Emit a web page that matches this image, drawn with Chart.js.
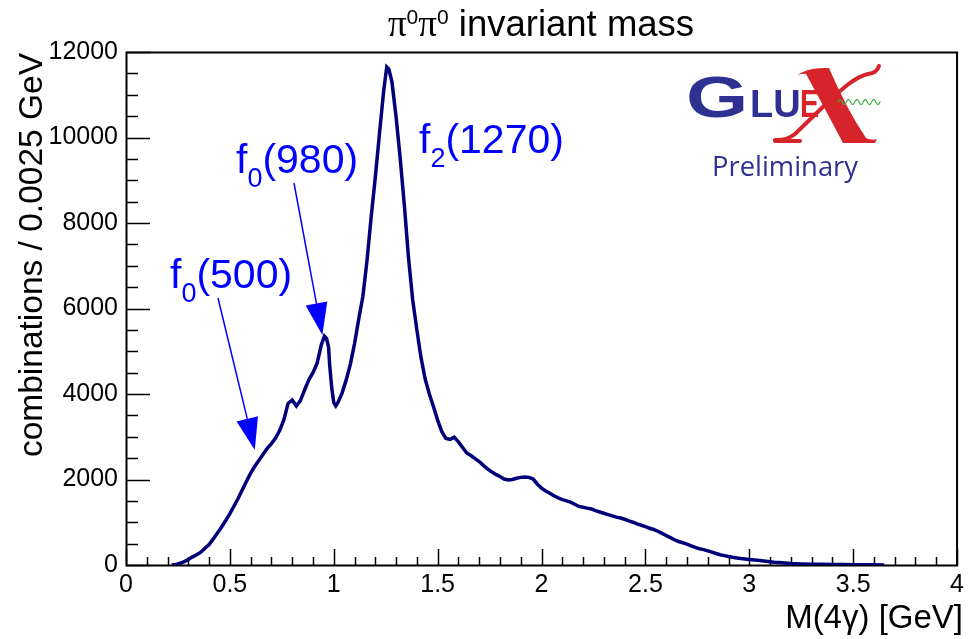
<!DOCTYPE html>
<html><head><meta charset="utf-8">
<script src="https://cdn.jsdelivr.net/npm/chart.js@4.4.0/dist/chart.umd.min.js"></script>
<style>html,body{margin:0;padding:0;background:#fff;}</style>
</head><body>
<canvas id="c" width="969" height="639"></canvas>
<script>
// M(4gamma) [GeV] sample positions
const masses = [0.22,0.24,0.26,0.28,0.30,0.32,0.34,0.36,0.38,0.40,0.42,0.44,0.46,0.48,0.50,0.52,0.54,0.56,0.58,0.60,
0.62,0.64,0.66,0.68,0.70,0.72,0.74,0.76,0.78,0.80,0.82,0.84,0.86,0.88,0.90,0.92,0.94,0.955,0.965,0.975,
0.98,0.99,1.00,1.01,1.02,1.04,1.06,1.08,1.10,1.12,1.14,1.16,1.18,1.20,1.22,1.24,1.255,1.265,1.28,1.30,
1.32,1.34,1.36,1.38,1.40,1.42,1.44,1.46,1.48,1.50,1.52,1.54,1.56,1.58,1.60,1.62,1.64,1.66,1.68,1.70,
1.72,1.74,1.76,1.78,1.80,1.82,1.84,1.86,1.88,1.90,1.92,1.94,1.96,1.98,2.00,2.02,2.04,2.06,2.08,2.10,
2.12,2.14,2.16,2.18,2.20,2.22,2.24,2.26,2.28,2.30,2.32,2.34,2.36,2.38,2.40,2.42,2.44,2.46,2.48,2.50,
2.52,2.54,2.56,2.58,2.60,2.62,2.64,2.66,2.68,2.70,2.72,2.74,2.76,2.78,2.80,2.82,2.84,2.86,2.88,2.90,
2.92,2.94,2.96,2.98,3.00,3.04,3.08,3.12,3.16,3.20,3.25,3.30,3.35,3.40,3.45,3.50,3.55,3.60,3.65];
// combinations / 0.0025 GeV
const counts = [0,10,40,80,130,190,240,300,390,480,610,750,890,1040,1200,1380,1560,1760,1960,2150,
2310,2450,2590,2730,2840,2970,3150,3400,3780,3860,3720,3850,4100,4330,4500,4720,5150,5350,5300,5100,
4700,4150,3800,3720,3800,4020,4330,4700,5180,5750,6280,7120,8140,9070,10090,11080,11650,11600,11300,10480,
9500,8400,7170,6200,5500,4850,4350,4000,3700,3390,3120,2960,2940,2990,2880,2750,2620,2560,2490,2420,
2330,2250,2180,2120,2070,2010,1990,2000,2030,2050,2060,2050,2010,1890,1800,1730,1680,1620,1570,1530,
1500,1470,1420,1370,1350,1330,1310,1270,1240,1210,1180,1150,1120,1100,1070,1030,1000,960,930,900,
860,830,790,740,690,640,590,550,520,490,450,410,380,360,330,300,270,240,220,200,
180,165,150,140,130,110,90,65,50,35,25,20,15,12,10,8,6,4,0];

const xTickValues = [0,0.5,1,1.5,2,2.5,3,3.5,4];
const xTickLabels = ['0','0.5','1','1.5','2','2.5','3','3.5','4'];
const yTickValues = [0,2000,4000,6000,8000,10000,12000];
const yTickLabels = ['0','2000','4000','6000','8000','10000','12000'];

const titleText = ' invariant mass';
const xTitle = 'M(4\u03b3) [GeV]';
const yTitle = 'combinations / 0.0025 GeV';

const SANS = '"Liberation Sans", Arial, sans-serif';

function drawArrow(ctx, x0, y0, x1, y1) {
  const L = 32, W = 11;
  const dx = x1 - x0, dy = y1 - y0, len = Math.hypot(dx, dy);
  const ux = dx / len, uy = dy / len;
  const bx = x1 - ux * L, by = y1 - uy * L;
  ctx.strokeStyle = '#0000ff'; ctx.fillStyle = '#0000ff'; ctx.lineWidth = 1.5;
  ctx.beginPath(); ctx.moveTo(x0, y0); ctx.lineTo(bx, by); ctx.stroke();
  ctx.beginPath(); ctx.moveTo(x1, y1);
  ctx.lineTo(bx - uy * W, by + ux * W); ctx.lineTo(bx + uy * W, by - ux * W);
  ctx.closePath(); ctx.fill();
}

function drawLabel(ctx, x, base, sub, rest) {
  ctx.fillStyle = '#0000ff'; ctx.textAlign = 'left'; ctx.textBaseline = 'alphabetic';
  ctx.font = '41px ' + SANS;
  ctx.fillText('f', x, base);
  let w = ctx.measureText('f').width;
  ctx.font = '27px ' + SANS;
  ctx.fillText(sub, x + w, base + 14);
  w += ctx.measureText(sub).width;
  ctx.font = '41px ' + SANS;
  ctx.fillText(rest, x + w, base);
}

function drawLogo(ctx) {
  const blue = '#2e3192', red = '#d7242b', green = '#3fae49';
  ctx.save();
  ctx.textAlign = 'left'; ctx.textBaseline = 'alphabetic';
  ctx.fillStyle = blue;
  ctx.font = 'bold 58px ' + SANS;
  ctx.save(); ctx.translate(686, 117); ctx.scale(1.38, 1); ctx.fillText('G', 0, 0); ctx.restore();
  ctx.font = 'bold 38px ' + SANS;
  ctx.fillText('LU', 750, 117);
  ctx.fillStyle = red;
  ctx.save(); ctx.translate(800, 117); ctx.scale(0.75, 1); ctx.fillText('E', 0, 0); ctx.restore();
  // script X
  ctx.fillStyle = red;
  ctx.beginPath();
  ctx.moveTo(797, 76);
  ctx.quadraticCurveTo(806, 67, 829, 68);
  ctx.quadraticCurveTo(847, 110, 866, 138);
  ctx.quadraticCurveTo(872, 141, 877, 139);
  ctx.lineTo(875, 143);
  ctx.lineTo(843, 143);
  ctx.quadraticCurveTo(823, 105, 806, 74);
  ctx.quadraticCurveTo(801, 73, 797, 76);
  ctx.closePath(); ctx.fill();
  ctx.strokeStyle = red; ctx.lineWidth = 4; ctx.lineCap = 'round';
  ctx.beginPath();
  ctx.moveTo(879, 66);
  ctx.quadraticCurveTo(877, 73, 868, 74);
  ctx.bezierCurveTo(855, 77, 843, 88, 827, 103);
  ctx.lineTo(795, 134);
  ctx.quadraticCurveTo(786, 141, 775, 140);
  ctx.stroke();
  ctx.beginPath(); ctx.moveTo(775, 141); ctx.lineTo(800, 141); ctx.stroke();
  // green wave
  ctx.strokeStyle = green; ctx.lineWidth = 1.2;
  ctx.beginPath();
  for (let i = 0; i <= 84; i++) {
    const x = 838 + i * 0.5;
    const y = 102 - 2.5 * Math.sin((x - 838) / 8.4 * 2 * Math.PI);
    if (i === 0) ctx.moveTo(x, y); else ctx.lineTo(x, y);
  }
  ctx.stroke();
  // Preliminary
  ctx.fillStyle = blue;
  ctx.font = '27px "Open Sans", Lato, sans-serif';
  const w = ctx.measureText('Preliminary').width;
  ctx.save(); ctx.translate(712, 176); ctx.scale(146 / w, 1); ctx.fillText('Preliminary', 0, 0); ctx.restore();
  ctx.restore();
}

const rootStyle = {
  id: 'rootStyle',
  beforeDatasetsDraw(chart) {
    const ctx = chart.ctx, a = chart.chartArea;
    const xs = chart.scales.x, ys = chart.scales.y;
    ctx.save();
    ctx.strokeStyle = '#000'; ctx.lineWidth = 1.5;
    for (let i = 0; i <= 40; i++) {
      const v = i / 10, px = Math.round(xs.getPixelForValue(v)) + 0.5;
      const len = (i % 5 === 0) ? 16 : 8;
      ctx.beginPath(); ctx.moveTo(px, a.bottom); ctx.lineTo(px, a.bottom - len); ctx.stroke();
    }
    for (let i = 0; i <= 24; i++) {
      const v = i * 500, py = Math.round(ys.getPixelForValue(v)) + 0.5;
      const len = (i % 4 === 0) ? 24 : 12;
      ctx.beginPath(); ctx.moveTo(a.left, py); ctx.lineTo(a.left + len, py); ctx.stroke();
    }
    ctx.lineWidth = 2;
    ctx.strokeRect(a.left + 0.5, a.top + 0.5, a.right - a.left - 0.5, a.bottom - a.top);
    ctx.restore();
  },
  afterDraw(chart) {
    const ctx = chart.ctx, a = chart.chartArea;
    const xs = chart.scales.x, ys = chart.scales.y;
    ctx.save();
    ctx.fillStyle = '#000';
    ctx.textBaseline = 'alphabetic';
    // title
    const piFont = '37px "Liberation Serif", serif', supFont = '21px ' + SANS, tFont = '36.5px ' + SANS;
    ctx.font = piFont; const wPi = ctx.measureText('\u03c0').width;
    ctx.font = supFont; const wSup = ctx.measureText('0').width;
    ctx.font = tFont; const wT = ctx.measureText(titleText).width;
    const total = 2 * (wPi + wSup) + wT;
    let tx = 541 - total / 2; const tb = 36;
    ctx.textAlign = 'left';
    for (let k = 0; k < 2; k++) {
      ctx.font = piFont; ctx.fillText('\u03c0', tx, tb); tx += wPi;
      ctx.font = supFont; ctx.fillText('0', tx, tb - 12); tx += wSup;
    }
    ctx.font = tFont; ctx.fillText(titleText, tx, tb);
    // x title
    ctx.font = '33px ' + SANS; ctx.textAlign = 'right';
    ctx.fillText(xTitle, 963, 628);
    // y title
    ctx.save(); ctx.translate(42, a.top + 1); ctx.rotate(-Math.PI / 2);
    ctx.font = '33.5px ' + SANS; ctx.textAlign = 'right';
    ctx.fillText(yTitle, 0, 0); ctx.restore();
    // annotations
    drawArrow(ctx, 294, 183, xs.getPixelForValue(0.945), ys.getPixelForValue(5380));
    drawArrow(ctx, 218, 298, xs.getPixelForValue(0.62), ys.getPixelForValue(2690));
    drawLabel(ctx, 236, 173, '0', '(980)');
    drawLabel(ctx, 170, 288, '0', '(500)');
    drawLabel(ctx, 419, 153, '2', '(1270)');
    drawLogo(ctx);
    ctx.restore();
  }
};

new Chart(document.getElementById('c'), {
  type: 'line',
  data: {
    datasets: [{
      data: masses.map((m, i) => ({ x: m, y: counts[i] })),
      borderColor: '#00007a',
      borderWidth: 3.5,
      pointRadius: 0,
      tension: 0,
      fill: false
    }]
  },
  options: {
    responsive: false,
    animation: false,
    devicePixelRatio: 1,
    layout: { padding: { left: 0, right: 4, top: 52, bottom: 0 } },
    plugins: { legend: { display: false }, title: { display: false }, tooltip: { enabled: false } },
    scales: {
      x: {
        type: 'linear', min: 0, max: 4,
        afterBuildTicks: s => { s.ticks = xTickValues.map(v => ({ value: v })); },
        afterFit: s => { s.height = 74; },
        grid: { display: false, drawTicks: false },
        border: { display: false },
        ticks: {
          autoSkip: false, maxRotation: 0, minRotation: 0, padding: 5, color: '#000',
          font: { family: '"Liberation Sans", Arial, sans-serif', size: 25 },
          callback: v => xTickLabels[xTickValues.indexOf(v)]
        }
      },
      y: {
        type: 'linear', min: 0, max: 12000,
        afterBuildTicks: s => { s.ticks = yTickValues.map(v => ({ value: v })); },
        afterFit: s => { s.width = 126; },
        grid: { display: false, drawTicks: false },
        border: { display: false },
        ticks: {
          autoSkip: false, padding: 8, color: '#000',
          font: { family: '"Liberation Sans", Arial, sans-serif', size: 25 },
          callback: v => yTickLabels[yTickValues.indexOf(v)]
        }
      }
    }
  },
  plugins: [rootStyle]
});
</script>
</body></html>
